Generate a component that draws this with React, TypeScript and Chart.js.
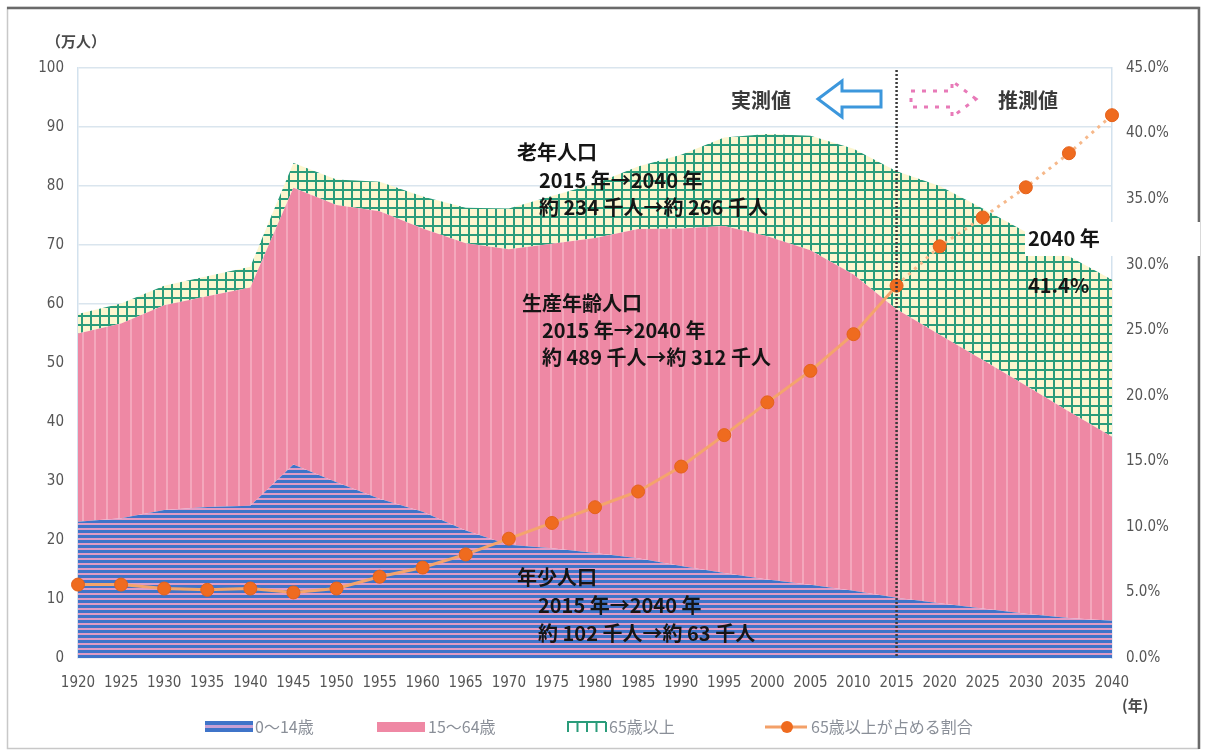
import React, { useEffect, useRef } from 'react';
import { Chart, registerables } from 'chart.js';

Chart.register(...registerables);

// ---- data (万人 / %) ----
const years = ['1920','1925','1930','1935','1940','1945','1950','1955','1960','1965','1970','1975','1980','1985','1990','1995','2000','2005','2010','2015','2020','2025','2030','2035','2040'];
const youngPop = [23.1,23.7,25.1,25.6,25.8,32.8,29.8,27.0,24.8,21.6,19.2,18.6,17.8,16.9,15.6,14.4,13.3,12.4,11.4,10.2,9.3,8.4,7.5,6.8,6.3];
const workingPop = [31.9,33.0,34.7,35.7,37.0,46.9,47.0,48.7,48.0,48.7,50.1,51.6,53.4,55.8,57.2,58.8,58.2,56.7,53.6,48.9,45.5,42.1,38.7,35.0,31.2];
const elderlyPop = [3.3,3.4,3.3,3.4,3.5,4.2,4.3,5.0,5.4,6.0,6.9,8.1,9.2,10.6,12.5,15.0,17.3,19.4,21.3,23.4,25.2,25.7,26.0,26.3,26.6];
const elderlyRatio = [5.6,5.6,5.3,5.2,5.3,5.0,5.3,6.2,6.9,7.9,9.1,10.3,11.5,12.7,14.6,17.0,19.5,21.9,24.7,28.4,31.4,33.6,35.9,38.5,41.4];

const leftAxisMax = 100;
const leftAxisStep = 10;
const rightAxisMax = 45;
const rightAxisStep = 5;
const splitYear = '2015';

const seriesNames = ['0～14歳', '15～64歳', '65歳以上', '65歳以上が占める割合'];
const leftUnit = '（万人）';
const bottomUnit = '(年)';
const actualLabel = '実測値';
const projectedLabel = '推測値';
const elderlyNote = ['老年人口', '2015 年→2040 年', '約 234 千人→約 266 千人'];
const workingNote = ['生産年齢人口', '2015 年→2040 年', '約 489 千人→約 312 千人'];
const youngNote = ['年少人口', '2015 年→2040 年', '約 102 千人→約 63 千人'];
const finalNote = ['2040 年', '41.4%'];

const TICK_FONT = "'DejaVu Sans Condensed', 'Liberation Sans Narrow', 'Liberation Sans', sans-serif";
const JP_FONT = "'Noto Sans CJK JP', 'Noto Sans', sans-serif";

function makePattern(w: number, h: number, draw: (g: CanvasRenderingContext2D) => void) {
  const c = document.createElement('canvas');
  c.width = w;
  c.height = h;
  const g = c.getContext('2d')!;
  draw(g);
  const main = document.createElement('canvas').getContext('2d')!;
  return main.createPattern(c, 'repeat')!;
}

export default function App() {
  const ref = useRef<HTMLCanvasElement | null>(null);

  useEffect(() => {
    document.body.style.margin = '0';
    const canvas = ref.current!;

    const bluePattern = makePattern(1, 5, (g) => {
      g.fillStyle = '#df9cc4';
      g.fillRect(0, 0, 1, 5);
      g.fillStyle = '#3f74c9';
      g.fillRect(0, 0, 1, 3);
    });
    const pinkPattern = makePattern(12, 1, (g) => {
      g.fillStyle = '#ee88a4';
      g.fillRect(0, 0, 12, 1);
      g.fillStyle = '#f4a7bc';
      g.fillRect(10, 0, 2, 1);
    });
    const greenPattern = makePattern(9, 9, (g) => {
      g.fillStyle = '#fcf6cf';
      g.fillRect(0, 0, 9, 9);
      g.fillStyle = '#2a9c7a';
      g.fillRect(0, 0, 9, 2);
      g.fillRect(0, 0, 2, 9);
    });

    const splitIndex = years.indexOf(splitYear);

    const framePlugin = {
      id: 'frame',
      beforeDraw(chart: any) {
        const c = chart.ctx;
        c.save();
        c.fillStyle = '#ffffff';
        c.fillRect(0, 0, chart.width, chart.height);
        c.strokeStyle = '#c8c8c8';
        c.lineWidth = 1.5;
        c.strokeRect(7.5, 7.5, 1191, 741);
        c.strokeStyle = '#6a6a6a';
        c.lineWidth = 2.5;
        c.beginPath();
        c.moveTo(7, 8);
        c.lineTo(1199, 8);
        c.lineTo(1199, 749);
        c.stroke();
        c.restore();
      },
    };

    const drawTextBlock = (c: CanvasRenderingContext2D, lines: string[], x0: number, x1: number, ys: number[]) => {
      lines.forEach((t, i) => {
        c.fillText(t, i === 0 ? x0 : x1, ys[i]);
      });
    };

    const annotationPlugin = {
      id: 'annotations',
      afterDatasetsDraw(chart: any) {
        const c = chart.ctx;
        const xs = chart.scales.x;
        const area = chart.chartArea;
        c.save();
        // white text box behind "2040 年"
        c.fillStyle = '#ffffff';
        c.fillRect(1025, 222, 175, 34);

        // vertical dashed divider at 2015
        const xd = xs.getPixelForValue(splitIndex);
        c.strokeStyle = '#3a3a3a';
        c.lineWidth = 2.5;
        c.setLineDash([2, 2]);
        c.beginPath();
        c.moveTo(xd, area.top + 2);
        c.lineTo(xd, area.bottom);
        c.stroke();
        c.setLineDash([]);

        // text notes
        c.fillStyle = '#151515';
        c.font = `bold 20px ${JP_FONT}`;
        c.textAlign = 'left';
        c.textBaseline = 'middle';
        drawTextBlock(c, elderlyNote, 517, 539, [152, 180, 207]);
        drawTextBlock(c, workingNote, 522, 542, [303, 330, 357]);
        drawTextBlock(c, youngNote, 517, 538, [577, 605, 633]);
        c.fillText(finalNote[0], 1028, 238);
        c.fillText(finalNote[1], 1028, 285);

        // actual / projected header
        c.fillStyle = '#3a3a3a';
        c.fillText(actualLabel, 731, 100);
        c.fillText(projectedLabel, 998, 100);

        // blue left arrow (outline)
        c.strokeStyle = '#3c97dc';
        c.fillStyle = '#ffffff';
        c.lineWidth = 3;
        c.beginPath();
        c.moveTo(818, 99);
        c.lineTo(842, 81);
        c.lineTo(842, 91);
        c.lineTo(881, 91);
        c.lineTo(881, 107);
        c.lineTo(842, 107);
        c.lineTo(842, 117);
        c.closePath();
        c.fill();
        c.stroke();

        // pink dashed right arrow (outline)
        c.strokeStyle = '#e87ab8';
        c.lineWidth = 3;
        c.setLineDash([4, 7]);
        c.beginPath();
        c.moveTo(976, 99);
        c.lineTo(952, 81);
        c.lineTo(952, 91);
        c.lineTo(911, 91);
        c.lineTo(911, 107);
        c.lineTo(952, 107);
        c.lineTo(952, 117);
        c.closePath();
        c.stroke();
        c.setLineDash([]);
        c.restore();
      },
      afterDraw(chart: any) {
        const c = chart.ctx;
        c.save();
        // units
        c.fillStyle = '#4a4a4a';
        c.font = `bold 15px ${JP_FONT}`;
        c.textBaseline = 'middle';
        c.textAlign = 'left';
        c.fillText(leftUnit, 46, 41);
        c.fillText(bottomUnit, 1122, 705);

        // legend
        const ly = 727;
        c.font = `16px ${JP_FONT}`;
        c.fillStyle = '#8a8f98';
        // young swatch
        c.fillStyle = '#3f74c9';
        c.fillRect(205, ly - 6, 48, 4);
        c.fillRect(205, ly + 1, 48, 4);
        c.fillStyle = '#c8a0d4';
        c.fillRect(205, ly - 2, 48, 3);
        // working swatch
        c.fillStyle = '#ef88a4';
        c.fillRect(377, ly - 5, 48, 10);
        // elderly swatch
        c.strokeStyle = '#2a9c7a';
        c.lineWidth = 2;
        c.beginPath();
        c.moveTo(567, ly - 5);
        c.lineTo(606, ly - 5);
        for (let i = 0; i < 5; i++) {
          const x = 568 + i * 9.5;
          c.moveTo(x, ly - 5);
          c.lineTo(x, ly + 5);
        }
        c.stroke();
        // ratio swatch
        c.strokeStyle = '#f3a068';
        c.lineWidth = 3;
        c.beginPath();
        c.moveTo(765, ly);
        c.lineTo(807, ly);
        c.stroke();
        c.fillStyle = '#ef6b1f';
        c.beginPath();
        c.arc(787, ly, 6, 0, Math.PI * 2);
        c.fill();

        c.fillStyle = '#8a8f98';
        c.fillText(seriesNames[0], 255, ly);
        c.fillText(seriesNames[1], 428, ly);
        c.fillText(seriesNames[2], 609, ly);
        c.fillText(seriesNames[3], 811, ly);
        c.restore();
      },
    };

    const chart = new Chart(canvas, {
      type: 'line',
      data: {
        labels: years,
        datasets: [
          {
            label: seriesNames[3],
            data: elderlyRatio,
            yAxisID: 'y1',
            borderColor: '#f4a46c',
            borderWidth: 3,
            pointRadius: 6.5,
            pointBackgroundColor: '#ef6b1f',
            pointBorderColor: '#e4621c',
            pointBorderWidth: 1,
            fill: false,
            tension: 0,
            segment: {
              borderDash: (ctx: any) => (ctx.p0DataIndex >= splitIndex ? [3, 5] : undefined),
              borderColor: (ctx: any) => (ctx.p0DataIndex >= splitIndex ? '#f6b88a' : undefined),
            },
          } as any,
          {
            label: seriesNames[0],
            data: youngPop,
            yAxisID: 'y',
            backgroundColor: bluePattern,
            borderColor: 'rgba(0,0,0,0)',
            borderWidth: 0,
            pointRadius: 0,
            fill: 'origin',
            tension: 0,
          },
          {
            label: seriesNames[1],
            data: workingPop,
            yAxisID: 'y',
            backgroundColor: pinkPattern,
            borderColor: 'rgba(0,0,0,0)',
            borderWidth: 0,
            pointRadius: 0,
            fill: 1,
            tension: 0,
          },
          {
            label: seriesNames[2],
            data: elderlyPop,
            yAxisID: 'y',
            backgroundColor: greenPattern,
            borderColor: 'rgba(0,0,0,0)',
            borderWidth: 0,
            pointRadius: 0,
            fill: 2,
            tension: 0,
          },
        ],
      },
      options: {
        responsive: false,
        animation: false,
        layout: { padding: { top: 68, bottom: 63, left: 0, right: 0 } },
        plugins: {
          legend: { display: false },
          tooltip: { enabled: false },
          title: { display: false },
        },
        scales: {
          x: {
            type: 'category',
            offset: false,
            grid: { display: false },
            border: { display: false },
            ticks: {
              color: '#555',
              font: { size: 15, family: TICK_FONT },
              maxRotation: 0,
              minRotation: 0,
              autoSkip: false,
              padding: 8,
            },
            afterFit: (s: any) => { s.height = 32; },
          },
          y: {
            position: 'left',
            stacked: true,
            min: 0,
            max: leftAxisMax,
            ticks: {
              stepSize: leftAxisStep,
              color: '#555',
              font: { size: 15, family: TICK_FONT },
              padding: 14,
            },
            grid: { color: '#dae5ee', lineWidth: 1.5, drawTicks: false },
            border: { display: true, color: '#d3e2ee', width: 1.5 },
            afterFit: (s: any) => { s.width = 78; },
          },
          y1: {
            position: 'right',
            min: 0,
            max: rightAxisMax,
            ticks: {
              stepSize: rightAxisStep,
              color: '#555',
              font: { size: 15, family: TICK_FONT },
              padding: 14,
              callback: (v: any) => Number(v).toFixed(1) + '%',
            },
            grid: { drawOnChartArea: false, drawTicks: false },
            border: { display: true, color: '#d3e2ee', width: 1.5 },
            afterFit: (s: any) => { s.width = 93; },
          },
        },
      } as any,
      plugins: [framePlugin, annotationPlugin],
    });

    return () => chart.destroy();
  }, []);

  return (
    <div style={{ width: 1205, height: 753, position: 'relative' }}>
      <canvas ref={ref} width={1205} height={753} />
    </div>
  );
}
